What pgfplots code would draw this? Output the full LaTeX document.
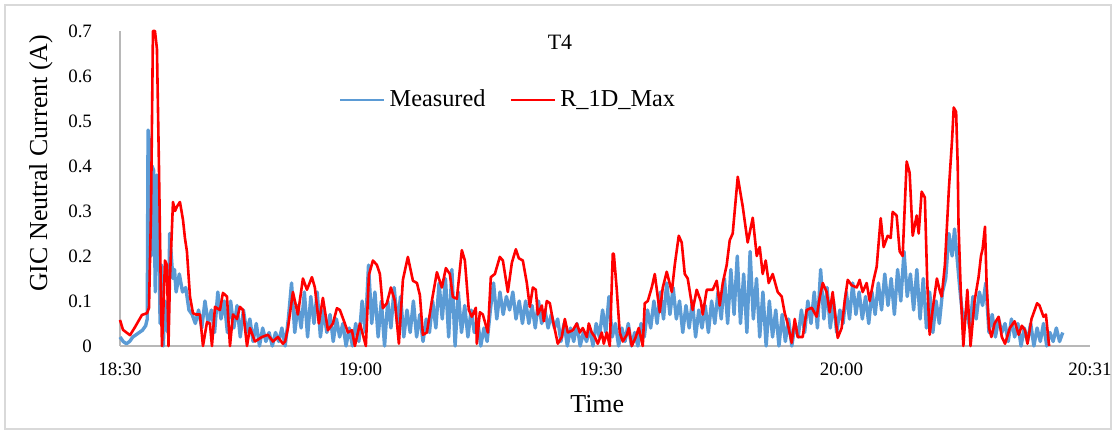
\documentclass[border=0pt]{standalone}
\usepackage{pgfplots}
\pgfplotsset{compat=1.18}
\usepackage{fontspec}
\setmainfont{Liberation Serif}
\definecolor{measblue}{HTML}{5B9BD5}
\definecolor{modred}{HTML}{FF0000}
\begin{document}
\begin{tikzpicture}
\path[use as bounding box] (-60bp,-44bp) rectangle (498bp,173bp);
\draw[black!15, line width=1.2bp] (-57.5bp,-41.5bp) rectangle (495.5bp,170.5bp);
\begin{axis}[
  at={(0,0)}, anchor=south west,
  scale only axis, width=485bp, height=157.5bp,
  xmin=0, xmax=121, ymin=0, ymax=0.7,
  clip=false,
  axis x line*=bottom, axis y line*=left,
  axis line style={draw=black!28, line width=0.8bp, -},
  major tick length=0pt,
  xtick={0,30,60,90,121},
  xticklabels={18:30,19:00,19:30,20:00,20:31},
  ytick={0,0.1,0.2,0.3,0.4,0.5,0.6,0.7},
  yticklabels={0,0.1,0.2,0.3,0.4,0.5,0.6,0.7},
  tick label style={font=\fontsize{9.5}{11}\selectfont},
  yticklabel style={anchor=east, xshift=-10.5bp},
  xticklabel style={anchor=north, yshift=-5bp},
  every axis y label/.style={at={(rel axis cs:0,0.58)}, xshift=-39.5bp, rotate=90, anchor=center},
  every axis x label/.style={at={(rel axis cs:0.492,0)}, yshift=-29bp, anchor=center},
  label style={font=\fontsize{13}{15}\selectfont},
  xlabel={Time},
  ylabel={GIC Neutral Current (A)},
  legend columns=2,
  legend style={at={(rel axis cs:0.401,0.781)}, anchor=center, draw=none, fill=none,
    font=\fontsize{12.2}{14}\selectfont,
    /tikz/every even column/.append style={column sep=10bp}},
  legend image code/.code={\draw[#1, line width=1.4bp] (0bp,0bp) -- (22bp,0bp);},
]
\addplot[measblue, line width=1.7bp, line join=round] coordinates {
(0,0.02)(0.4,0.01)(0.8,0.005)(1.2,0.01)(1.6,0.02)(2.0,0.025)(2.4,0.03)(2.8,0.035)(3.2,0.045)(3.4,0.06)
(3.5,0.48)(3.7,0.45)(3.9,0.2)(4.0,0.40)(4.2,0.39)(4.4,0.12)(4.6,0.38)(4.8,0.32)(5.0,0.05)(5.2,0.18)
(5.4,0.0)(5.6,0.1)(5.8,0.04)(6.0,0.03)(6.2,0.25)(6.4,0.2)(6.6,0.15)(6.8,0.17)(7.0,0.12)(7.4,0.16)
(7.8,0.12)(8.2,0.13)(8.6,0.08)(9.0,0.07)(9.4,0.05)(9.8,0.08)(10.2,0.04)(10.6,0.1)(11.0,0.05)(11.4,0.08)
(11.8,0.03)(12.2,0.12)(12.6,0.06)(13.0,0.1)(13.4,0.03)(13.8,0.1)(14.2,0.04)(14.6,0.09)(15.0,0.02)(15.4,0.08)
(15.8,0.03)(16.2,0.06)(16.6,0.01)(17.0,0.05)(17.4,0.0)(17.8,0.04)(18.2,0.01)(18.6,0.03)(19.0,0.0)(19.4,0.03)
(19.8,0.01)(20.2,0.04)(20.6,0.0)(21.0,0.06)(21.4,0.14)(21.8,0.03)(22.2,0.09)(22.6,0.04)(23.0,0.12)(23.4,0.02)
(23.8,0.11)(24.2,0.05)(24.6,0.12)(25.0,0.02)(25.4,0.08)(25.8,0.03)(26.2,0.07)(26.6,0.01)(27.0,0.06)(27.4,0.02)
(27.8,0.05)(28.2,0.0)(28.6,0.04)(29.0,0.0)(29.4,0.05)(29.8,0.01)(30.2,0.1)(30.6,0.03)(31.0,0.18)(31.4,0.05)
(31.8,0.12)(32.2,0.02)(32.6,0.1)(33.0,0.0)(33.4,0.1)(33.8,0.04)(34.2,0.13)(34.6,0.05)(35.0,0.11)(35.4,0.02)
(35.8,0.08)(36.2,0.03)(36.6,0.1)(37.0,0.02)(37.4,0.07)(37.8,0.01)(38.2,0.06)(38.6,0.03)(39.0,0.1)(39.4,0.04)
(39.8,0.14)(40.2,0.06)(40.6,0.15)(41.0,0.02)(41.4,0.17)(41.8,0.0)(42.2,0.12)(42.6,0.03)(43.0,0.09)(43.4,0.02)
(43.8,0.08)(44.2,0.03)(44.6,0.06)(45.0,0.0)(45.4,0.04)(45.8,0.01)(46.2,0.08)(46.6,0.14)(47.0,0.06)(47.4,0.12)
(47.8,0.07)(48.2,0.11)(48.6,0.08)(49.0,0.12)(49.4,0.06)(49.8,0.1)(50.2,0.05)(50.6,0.1)(51.0,0.05)(51.4,0.09)
(51.8,0.04)(52.2,0.1)(52.6,0.05)(53.0,0.08)(53.4,0.04)(53.8,0.07)(54.2,0.04)(54.6,0.06)(55.0,0.01)(55.4,0.05)
(55.8,0.0)(56.2,0.04)(56.6,0.01)(57.0,0.05)(57.4,0.0)(57.8,0.03)(58.2,0.01)(58.6,0.04)(59.0,0.0)(59.4,0.05)
(59.8,0.02)(60.2,0.08)(60.6,0.03)(61.0,0.11)(61.4,0.02)(61.8,0.05)(62.2,0.0)(62.6,0.04)(63.0,0.01)(63.4,0.05)
(63.8,0.0)(64.2,0.03)(64.6,0.0)(65.0,0.05)(65.4,0.02)(65.8,0.08)(66.2,0.04)(66.6,0.1)(67.0,0.05)(67.4,0.12)
(67.8,0.06)(68.2,0.14)(68.6,0.07)(69.0,0.13)(69.4,0.06)(69.8,0.1)(70.2,0.03)(70.6,0.09)(71.0,0.04)(71.4,0.1)
(71.8,0.02)(72.2,0.08)(72.6,0.04)(73.0,0.09)(73.4,0.03)(73.8,0.1)(74.2,0.05)(74.6,0.12)(75.0,0.06)(75.4,0.15)
(75.8,0.05)(76.2,0.17)(76.6,0.07)(77.0,0.2)(77.4,0.05)(77.8,0.16)(78.2,0.03)(78.6,0.21)(79.0,0.06)(79.4,0.15)
(79.8,0.02)(80.2,0.12)(80.6,0.0)(81.0,0.1)(81.4,0.02)(81.8,0.08)(82.2,0.0)(82.6,0.07)(83.0,0.01)(83.4,0.06)
(83.8,0.0)(84.2,0.05)(84.6,0.02)(85.0,0.08)(85.4,0.03)(85.8,0.1)(86.2,0.05)(86.6,0.12)(87.0,0.04)(87.4,0.17)
(87.8,0.06)(88.2,0.13)(88.6,0.04)(89.0,0.1)(89.4,0.03)(89.8,0.08)(90.2,0.05)(90.6,0.12)(91.0,0.06)(91.4,0.14)
(91.8,0.07)(92.2,0.12)(92.6,0.06)(93.0,0.11)(93.4,0.05)(93.8,0.12)(94.2,0.07)(94.6,0.14)(95.0,0.08)(95.4,0.16)
(95.8,0.09)(96.2,0.15)(96.6,0.07)(97.0,0.17)(97.4,0.1)(97.8,0.21)(98.2,0.11)(98.6,0.16)(99.0,0.08)(99.4,0.17)
(99.8,0.06)(100.2,0.15)(100.6,0.04)(101.0,0.12)(101.4,0.03)(101.8,0.1)(102.2,0.05)(102.6,0.12)(103.0,0.15)(103.4,0.25)
(103.8,0.2)(104.1,0.26)(104.4,0.2)(104.8,0.12)(105.2,0.05)(105.6,0.08)(106.0,0.04)(106.4,0.11)(106.8,0.06)(107.2,0.12)
(107.6,0.09)(108.0,0.14)(108.4,0.03)(108.8,0.07)(109.2,0.02)(109.6,0.06)(110.0,0.03)(110.4,0.05)(110.8,0.01)(111.2,0.06)
(111.6,0.02)(112.0,0.05)(112.4,0.0)(112.8,0.04)(113.2,0.01)(113.6,0.05)(114.0,0.0)(114.4,0.04)(114.8,0.01)(115.2,0.05)
(115.6,0.0)(116.0,0.03)(116.4,0.01)(116.8,0.04)(117.2,0.01)(117.6,0.03)
};
\addlegendentry{Measured}
\addplot[modred, line width=1.3bp, line join=round] coordinates {
(0,0.058)(0.37,0.036)(1.25,0.024)(1.87,0.042)(2.74,0.069)(3.37,0.073)(3.62,0.085)(3.87,0.3)(4.11,0.70)(4.36,0.70)
(4.61,0.66)(4.86,0.4)(5.11,0.1)(5.24,0.0)(5.49,0.12)(5.61,0.19)(5.86,0.18)(6.05,0.0)(6.23,0.15)(6.61,0.32)
(6.86,0.30)(7.11,0.31)(7.48,0.32)(7.86,0.28)(8.10,0.24)(8.35,0.21)(8.73,0.11)(9.10,0.073)(9.48,0.07)(9.97,0.07)
(10.35,0.0)(10.85,0.053)(11.22,0.05)(11.47,0.0)(11.85,0.087)(12.47,0.08)(12.84,0.118)(13.34,0.11)(13.72,0.0)(14.09,0.07)
(14.59,0.06)(14.96,0.087)(15.34,0.08)(15.84,0.0)(16.21,0.04)(16.83,0.01)(17.71,0.02)(18.45,0.025)(19.08,0.01)(19.70,0.02)
(20.32,0.005)(20.6,0.01)(20.95,0.04)(21.57,0.12)(22.19,0.07)(22.82,0.15)(23.32,0.125)(23.94,0.153)(24.31,0.13)(24.81,0.05)
(25.31,0.107)(25.94,0.035)(26.56,0.05)(27.06,0.084)(27.43,0.08)(28.05,0.05)(28.43,0.03)(28.93,0.035)(29.30,0.0)(29.93,0.05)
(30.67,0.0)(31.05,0.158)(31.55,0.19)(32.05,0.18)(32.42,0.16)(32.79,0.084)(33.29,0.095)(33.79,0.13)(34.29,0.1)(34.79,0.005)
(35.29,0.147)(35.91,0.198)(36.54,0.145)(37.04,0.14)(37.41,0.113)(37.78,0.025)(38.28,0.03)(38.90,0.1)(39.53,0.164)(40.15,0.13)
(40.65,0.173)(41.15,0.16)(41.52,0.109)(42.02,0.105)(42.64,0.213)(43.02,0.19)(43.51,0.08)(43.89,0.065)(44.39,0.085)(44.51,0.005)
(44.89,0.075)(45.26,0.07)(45.89,0.03)(46.26,0.153)(46.76,0.16)(47.38,0.198)(47.76,0.19)(48.38,0.12)(48.88,0.185)(49.38,0.215)
(49.75,0.195)(50.25,0.19)(50.75,0.14)(51.12,0.087)(51.50,0.13)(51.87,0.125)(52.12,0.07)(52.62,0.09)(52.87,0.055)(53.24,0.1)
(53.62,0.095)(53.99,0.058)(54.61,0.005)(55.11,0.02)(55.49,0.06)(55.86,0.03)(56.49,0.035)(56.98,0.05)(57.36,0.03)(57.73,0.04)
(58.23,0.02)(58.48,0.05)(58.85,0.03)(59.23,0.02)(59.60,0.005)(60.10,0.03)(60.35,0.005)(60.72,0.03)(61.10,0.0)(61.47,0.205)
(61.60,0.205)(61.97,0.125)(62.34,0.03)(62.72,0.01)(63.22,0.025)(63.47,0.04)(63.84,0.0)(64.34,0.02)(64.71,0.04)(65.21,0.0)
(65.46,0.095)(65.84,0.1)(66.33,0.13)(66.71,0.16)(67.33,0.075)(67.71,0.13)(68.20,0.165)(68.83,0.12)(69.20,0.18)(69.70,0.245)
(70.07,0.23)(70.45,0.16)(70.82,0.15)(71.44,0.08)(71.94,0.125)(72.44,0.1)(72.69,0.07)(73.19,0.125)(73.56,0.125)(73.94,0.125)
(74.44,0.145)(74.81,0.09)(75.19,0.14)(75.68,0.18)(76.06,0.235)(76.43,0.25)(77.06,0.376)(77.68,0.31)(78.30,0.23)(78.93,0.285)
(79.43,0.2)(79.80,0.22)(80.17,0.16)(80.55,0.19)(80.92,0.14)(81.42,0.16)(82.04,0.12)(82.54,0.11)(82.92,0.073)(83.29,0.05)
(83.79,0.007)(84.17,0.06)(84.54,0.02)(85.16,0.02)(85.66,0.08)(86.29,0.085)(86.91,0.065)(87.28,0.107)(87.66,0.14)(88.15,0.12)
(88.53,0.075)(88.90,0.12)(89.53,0.018)(90.02,0.04)(90.40,0.1)(90.78,0.147)(91.27,0.135)(91.90,0.13)(92.27,0.147)(92.64,0.12)
(93.14,0.14)(93.52,0.1)(94.01,0.147)(94.39,0.176)(94.89,0.284)(95.26,0.22)(95.76,0.245)(96.14,0.24)(96.38,0.298)(96.88,0.29)
(97.26,0.21)(97.63,0.2)(98.13,0.41)(98.50,0.385)(98.88,0.245)(99.38,0.29)(99.63,0.25)(100.0,0.343)(100.4,0.33)(100.7,0.14)
(101.0,0.025)(101.4,0.085)(101.9,0.15)(102.3,0.12)(102.5,0.11)(102.9,0.18)(103.4,0.35)(103.8,0.46)(104.0,0.53)(104.3,0.52)
(104.5,0.40)(104.6,0.27)(104.9,0.11)(105.2,0.0)(105.7,0.125)(106.1,0.0)(106.6,0.1)(107.1,0.153)(107.4,0.2)(107.6,0.215)
(107.9,0.265)(108.1,0.14)(108.4,0.04)(108.7,0.02)(109.1,0.05)(109.6,0.065)(110.0,0.02)(110.4,0.005)(111.0,0.04)(111.6,0.055)
(112.1,0.025)(112.5,0.045)(112.9,0.035)(113.2,0.005)(113.7,0.06)(114.4,0.095)(114.7,0.09)(115.2,0.065)(115.5,0.07)(115.9,0.0)
};
\addlegendentry{R\_1D\_Max}
\node[font=\fontsize{11}{13}\selectfont] at (rel axis cs:0.4536,0.965) {T4};
\end{axis}
\end{tikzpicture}
\end{document}
